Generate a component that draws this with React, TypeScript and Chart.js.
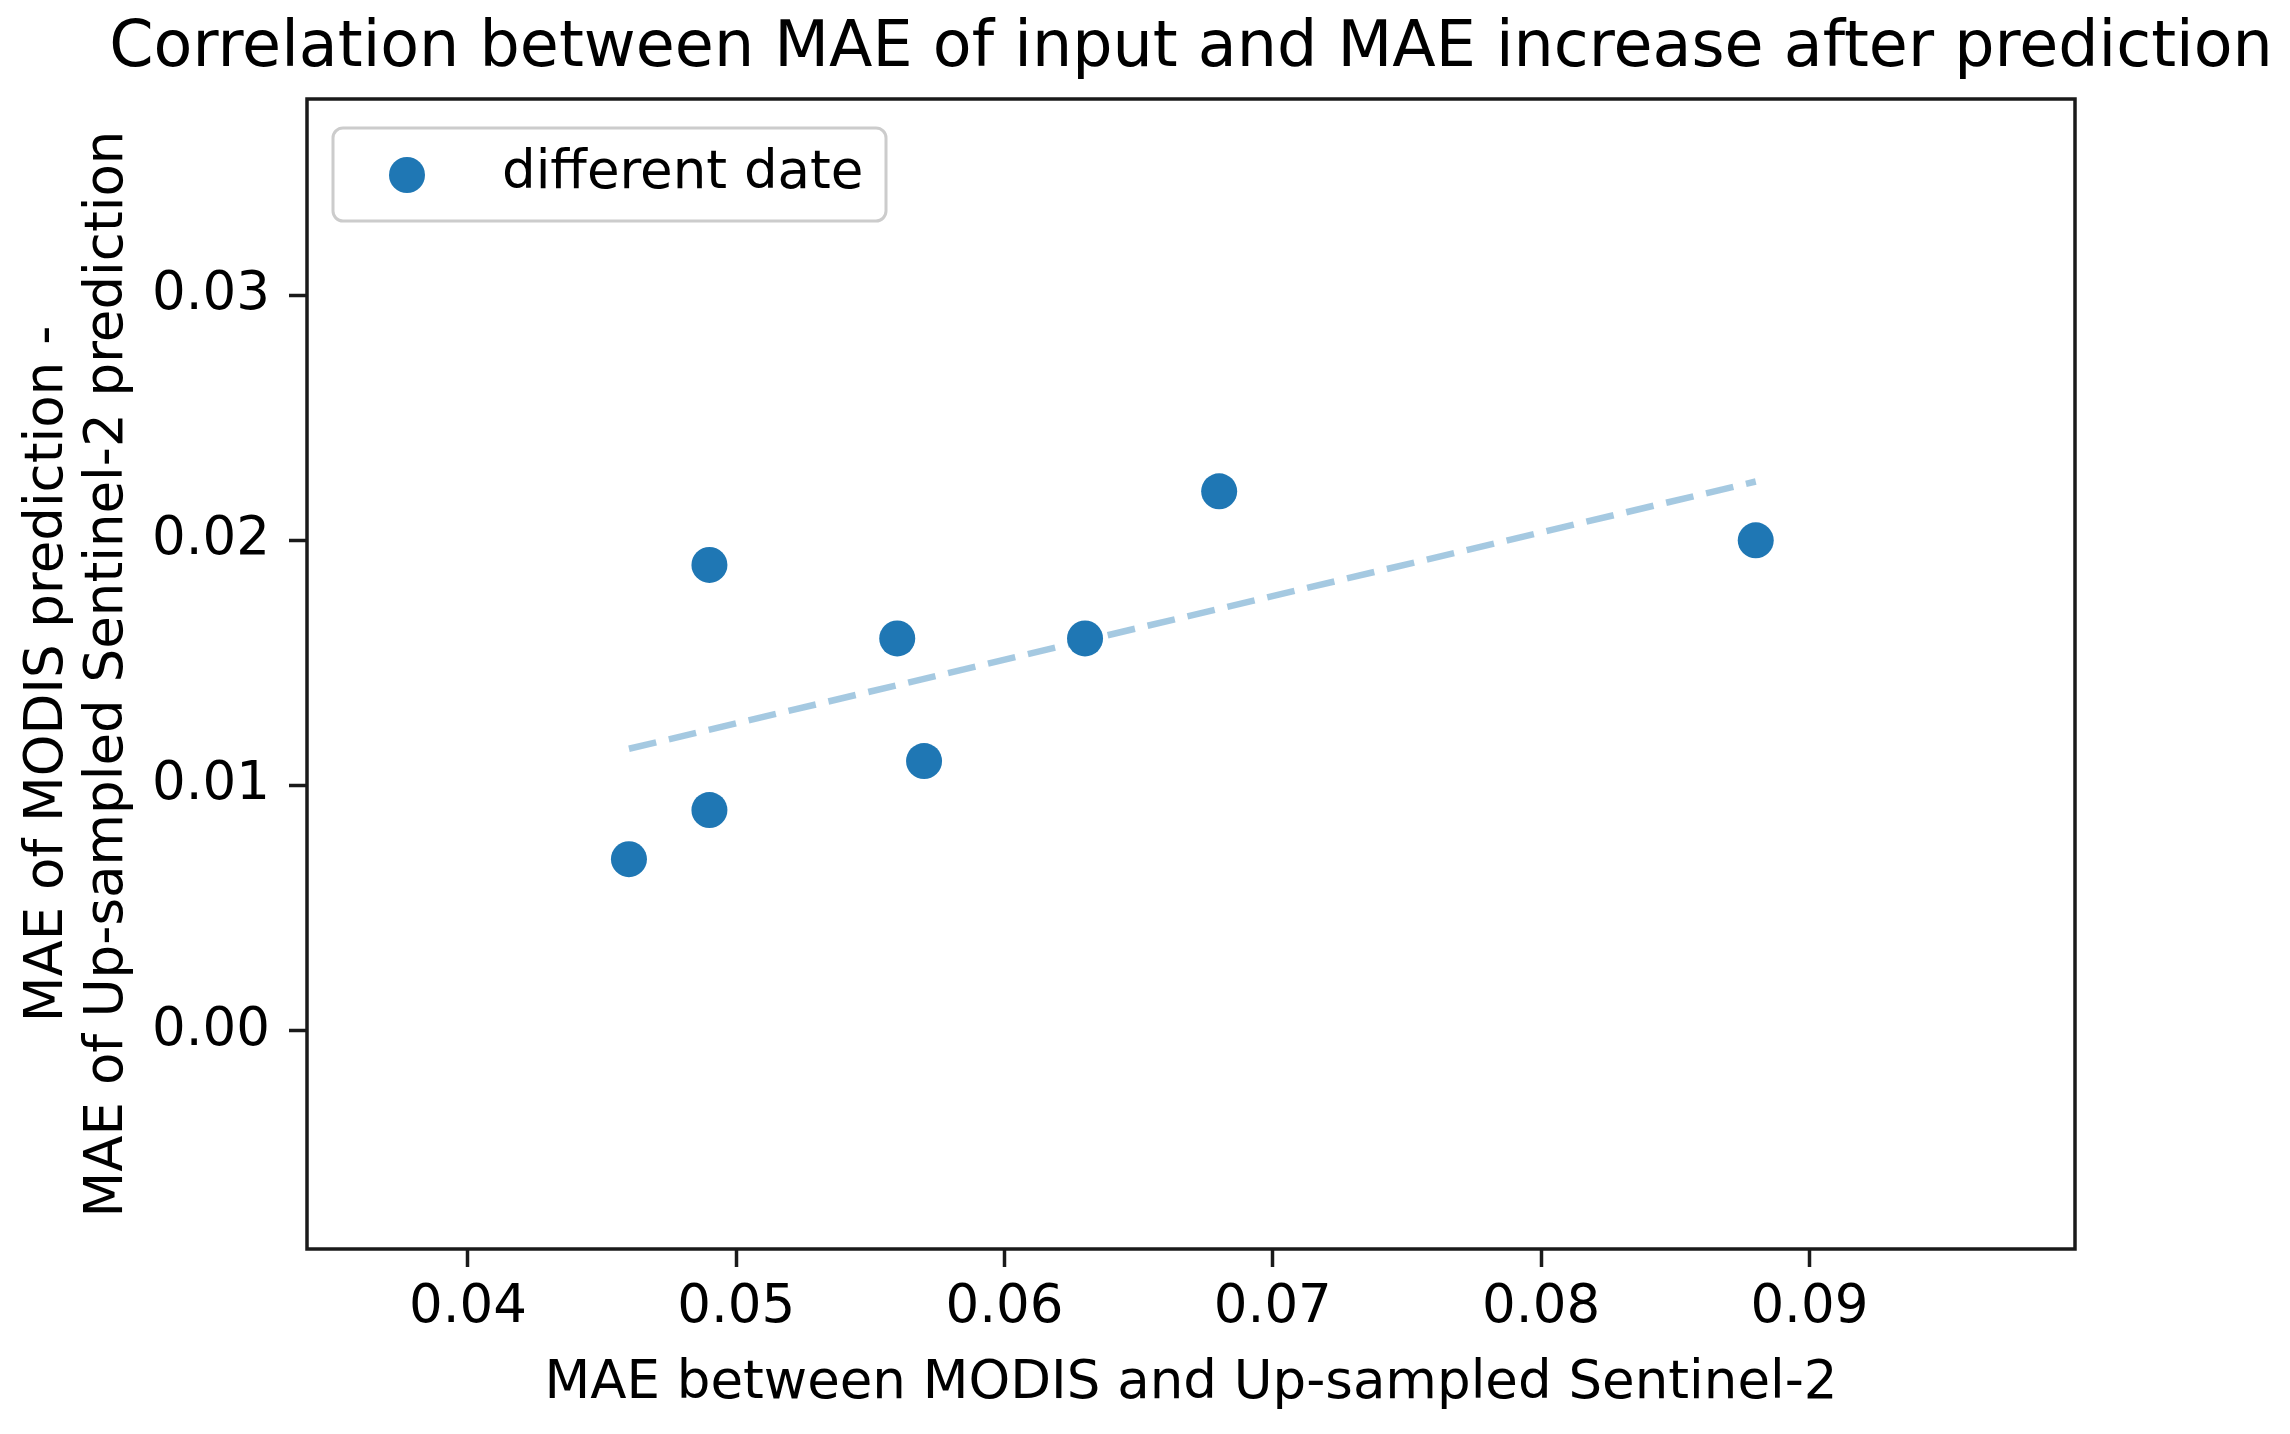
import React, { useEffect, useRef } from "react";
import { Chart, registerables } from "chart.js";

Chart.register(...registerables);

const titleText = "Correlation between MAE of input and MAE increase after prediction";
const xLabel = "MAE between MODIS and Up-sampled Sentinel-2";
const yLabel = ["MAE of MODIS prediction -", "MAE of Up-sampled Sentinel-2 prediction"];
const legendLabel = "different date";

const inputMAE = [0.046, 0.049, 0.049, 0.056, 0.057, 0.063, 0.068, 0.088];
const maeIncrease = [0.007, 0.009, 0.019, 0.016, 0.011, 0.016, 0.022, 0.02];

const trendX = [0.046, 0.088];
const trendY = [0.0115, 0.0224];

const xTicks = [0.04, 0.05, 0.06, 0.07, 0.08, 0.09];
const yTicks = [0.0, 0.01, 0.02, 0.03];
const xRange = [0.034, 0.0999];
const yRange = [-0.0089, 0.038];

const FONT = "'DejaVu Sans', sans-serif";
const BLUE = "#1f77b4";
const FS = 53;

const decor = {
  id: "decor",
  afterDatasetsDraw(chart: any) {
    const { ctx, chartArea: ca } = chart;
    ctx.save();
    ctx.strokeStyle = "#1a1a1a";
    ctx.lineWidth = 3.5;
    ctx.strokeRect(ca.left, ca.top, ca.right - ca.left, ca.bottom - ca.top);
    ctx.restore();
  },
  afterDraw(chart: any) {
    const { ctx, chartArea: ca } = chart;
    ctx.save();
    // title
    ctx.fillStyle = "#000";
    ctx.font = `63.5px ${FONT}`;
    ctx.textAlign = "center";
    ctx.textBaseline = "alphabetic";
    ctx.fillText(titleText, (ca.left + ca.right) / 2, 66);
    // legend
    const bx = ca.left + 26;
    const by = ca.top + 29;
    const bw = 553;
    const bh = 93;
    ctx.beginPath();
    ctx.roundRect(bx, by, bw, bh, 10);
    ctx.fillStyle = "rgba(255,255,255,0.8)";
    ctx.fill();
    ctx.strokeStyle = "#cccccc";
    ctx.lineWidth = 3;
    ctx.stroke();
    ctx.beginPath();
    ctx.arc(bx + 74, by + 47, 18, 0, Math.PI * 2);
    ctx.fillStyle = BLUE;
    ctx.fill();
    ctx.fillStyle = "#000";
    ctx.font = `${FS}px ${FONT}`;
    ctx.textAlign = "left";
    ctx.textBaseline = "middle";
    ctx.fillText(legendLabel, bx + 169, by + 46);
    ctx.restore();
  },
};

export default function App() {
  const ref = useRef<HTMLCanvasElement | null>(null);

  useEffect(() => {
    document.body.style.margin = "0";
    const canvas = ref.current;
    if (!canvas) return;
    const scatterData = inputMAE.map((x, i) => ({ x, y: maeIncrease[i] }));
    const trendData = trendX.map((x, i) => ({ x, y: trendY[i] }));

    const chart = new Chart(canvas, {
      type: "scatter",
      data: {
        datasets: [
          {
            type: "scatter",
            label: legendLabel,
            data: scatterData,
            pointRadius: 18,
            pointHoverRadius: 18,
            backgroundColor: BLUE,
            borderWidth: 0,
            order: 0,
          },
          {
            type: "line",
            label: "trend",
            data: trendData,
            showLine: true,
            borderColor: "rgba(31,119,180,0.4)",
            borderWidth: 6.5,
            borderDash: [28, 13],
            pointRadius: 0,
            fill: false,
            order: 1,
          } as any,
        ],
      },
      options: {
        animation: false,
        responsive: false,
        devicePixelRatio: 1,
        layout: { padding: { top: 99, right: 215, bottom: 0, left: 0 } },
        plugins: {
          legend: { display: false },
          title: { display: false },
          tooltip: { enabled: false },
        },
        scales: {
          x: {
            type: "linear",
            min: xRange[0],
            max: xRange[1],
            afterFit: (s: any) => {
              s.height = 185;
            },
            afterBuildTicks: (s: any) => {
              s.ticks = xTicks.map((v) => ({ value: v }));
            },
            border: { display: false },
            grid: {
              display: true,
              drawOnChartArea: false,
              drawTicks: true,
              tickLength: 18,
              tickWidth: 3.5,
              tickColor: "#1a1a1a",
            },
            ticks: {
              color: "#000",
              font: { family: FONT, size: FS },
              padding: 9,
              maxRotation: 0,
              callback: (v: any) => Number(v).toFixed(2),
            },
            title: {
              display: true,
              text: xLabel,
              color: "#000",
              font: { family: FONT, size: FS, lineHeight: 1.12 },
              padding: { top: 0, bottom: 20 },
            },
          },
          y: {
            type: "linear",
            min: yRange[0],
            max: yRange[1],
            afterFit: (s: any) => {
              s.width = 307;
            },
            afterBuildTicks: (s: any) => {
              s.ticks = yTicks.map((v) => ({ value: v }));
            },
            border: { display: false },
            grid: {
              display: true,
              drawOnChartArea: false,
              drawTicks: true,
              tickLength: 18,
              tickWidth: 3.5,
              tickColor: "#1a1a1a",
            },
            ticks: {
              color: "#000",
              font: { family: FONT, size: FS },
              padding: 19,
              callback: (v: any) => Number(v).toFixed(2),
            },
            title: {
              display: true,
              text: yLabel,
              color: "#000",
              font: { family: FONT, size: FS, lineHeight: 1.12 },
              padding: { top: 19, bottom: 0 },
            },
          },
        },
      },
      plugins: [decor],
    } as any);

    return () => {
      chart.destroy();
    };
  }, []);

  return (
    <div style={{ position: "absolute", left: 0, top: 0, width: 2290, height: 1434, background: "#fff" }}>
      <canvas ref={ref} width={2290} height={1434} style={{ width: 2290, height: 1434, display: "block" }} />
    </div>
  );
}
